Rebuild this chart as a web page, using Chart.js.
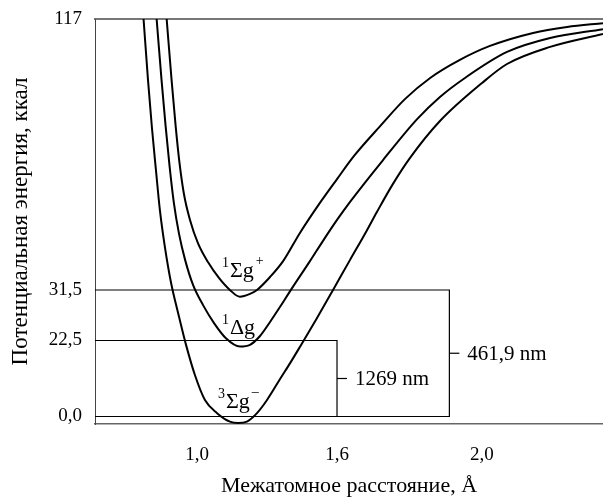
<!DOCTYPE html>
<html>
<head>
<meta charset="utf-8">
<script src="https://cdn.jsdelivr.net/npm/chart.js@4.4.1/dist/chart.umd.min.js"></script>
<style>
  body { margin: 0; background: #fff; }
  #wrap { width: 603px; height: 497px; }
</style>
</head>
<body>
<div id="wrap"><canvas id="chart" width="603" height="497"></canvas></div>
<script>
// axes (schematic, ticks are not evenly spaced in the original)
var xTicks = [1.0, 1.6, 2.0];
var xTickLabels = ['1,0', '1,6', '2,0'];
var yTicks = [0, 22.5, 31.5, 117];
var yTickLabels = ['0,0', '22,5', '31,5', '117'];
var xMin = 0.563, xMax = 2.334;
var yMin = -2.22, yMax = 117;

// 3Σg- (ground state)
var groundX = [0.771, 0.790, 0.807, 0.824, 0.841, 0.863, 0.889, 0.919, 0.953, 0.991, 1.034, 1.086, 1.141, 1.176, 1.214, 1.257, 1.300, 1.356, 1.399, 1.441, 1.510, 1.583, 1.636, 1.680, 1.710, 1.754, 1.801, 1.884, 2.000, 2.069, 2.188, 2.334];
var groundY = [117, 97.8, 82.6, 69.4, 56.7, 44.8, 33.7, 27.4, 21.2, 12.3, 4.9, 1.0, -1.5, -1.9, -1.5, 1.0, 4.9, 11.1, 15.8, 20.6, 26.2, 31.5, 41.0, 49.8, 56.1, 64.9, 73.1, 84.8, 96.8, 102.8, 108.2, 112.3];
// 1Δg
var deltaX = [0.827, 0.848, 0.865, 0.882, 0.901, 0.923, 0.949, 0.983, 1.026, 1.073, 1.124, 1.184, 1.227, 1.270, 1.313, 1.356, 1.399, 1.484, 1.540, 1.600, 1.636, 1.727, 1.821, 1.884, 1.953, 2.069, 2.188, 2.334];
var deltaY = [117, 97.8, 83.6, 70.9, 58.9, 49.2, 41.0, 33.1, 28.8, 25.6, 22.9, 20.7, 21.2, 23.3, 25.8, 28.5, 31.3, 40.6, 47.0, 53.6, 59.3, 72.5, 85.4, 92.4, 98.4, 106.6, 111.0, 113.8];
// 1Σg+
var sigmaX = [0.870, 0.891, 0.908, 0.925, 0.944, 0.970, 1.004, 1.047, 1.094, 1.141, 1.184, 1.227, 1.257, 1.313, 1.369, 1.441, 1.523, 1.600, 1.647, 1.719, 1.788, 1.857, 1.939, 2.022, 2.141, 2.235, 2.334];
var sigmaY = [117, 97.8, 83.6, 71.6, 61.8, 53.6, 46.3, 40.3, 35.3, 31.5, 30.3, 30.8, 31.5, 35.6, 40.6, 49.5, 58.6, 66.5, 73.8, 83.2, 91.8, 98.4, 104.1, 108.5, 112.6, 114.5, 115.7];

// energy levels and transitions
var bracketX = [1.6, 1.91];
var bracketTop = [22.5, 31.5];
var bracketLabels = ['1269 nm', '461,9 nm'];
var stateSup = ['1', '1', '3'];
var stateMain = ['Σg', 'Δg', 'Σg'];
var stateTail = ['+', '', '–'];

var SERIF = '"Liberation Serif", "Times New Roman", serif';

function toDecimal(knots, v) {
  for (var i = 1; i < knots.length; i++) {
    if (v <= knots[i][0] || i === knots.length - 1) {
      var a = knots[i - 1], b = knots[i];
      return a[1] + (v - a[0]) / (b[0] - a[0]) * (b[1] - a[1]);
    }
  }
}
function fromDecimal(knots, d) {
  for (var i = 1; i < knots.length; i++) {
    if (d <= knots[i][1] || i === knots.length - 1) {
      var a = knots[i - 1], b = knots[i];
      return a[0] + (d - a[1]) / (b[1] - a[1]) * (b[0] - a[0]);
    }
  }
}

// linear scale that is linear only between its knots
class PiecewiseScale extends Chart.LinearScale {
  getPixelForValue(value) {
    if (value === null) return NaN;
    return this.getPixelForDecimal(toDecimal(this.options.knots, value));
  }
  getValueForPixel(pixel) {
    return fromDecimal(this.options.knots, this.getDecimalForPixel(pixel));
  }
}
PiecewiseScale.id = 'piecewise';
PiecewiseScale.defaults = {};
Chart.register(PiecewiseScale);

function zip(xs, ys) {
  return xs.map(function(x, i) { return {x: x, y: ys[i]}; });
}

function curve(xs, ys) {
  return {
    data: zip(xs, ys),
    borderColor: '#000',
    borderWidth: 2,
    pointRadius: 0,
    fill: false,
    cubicInterpolationMode: 'monotone'
  };
}

function straight(points, color) {
  return {
    data: points,
    borderColor: color,
    borderWidth: 1.2,
    pointRadius: 0,
    fill: false,
    tension: 0
  };
}

var datasets = [
  curve(groundX, groundY),
  curve(deltaX, deltaY),
  curve(sigmaX, sigmaY),
  // 31,5 level, its bracket down to 0,0 and the 0,0 level
  straight([
    {x: xMin, y: bracketTop[1]}, {x: bracketX[1], y: bracketTop[1]},
    {x: bracketX[1], y: 0}, {x: xMin, y: 0}
  ], '#000'),
  // 22,5 level and its bracket
  straight([
    {x: xMin, y: bracketTop[0]}, {x: bracketX[0], y: bracketTop[0]},
    {x: bracketX[0], y: 0}
  ], '#000')
];

var labelPlugin = {
  id: 'labels',
  afterDatasetsDraw: function(chart) {
    var ctx = chart.ctx;
    var xs = chart.scales.x, ys = chart.scales.y;
    ctx.save();
    ctx.fillStyle = '#000';
    ctx.strokeStyle = '#000';
    ctx.lineWidth = 1.2;

    // bracket ticks and wavelengths
    bracketX.forEach(function(bx, i) {
      var px = xs.getPixelForValue(bx);
      var py = (ys.getPixelForValue(0) + ys.getPixelForValue(bracketTop[i])) / 2;
      ctx.beginPath();
      ctx.moveTo(px, py);
      ctx.lineTo(px + 10, py);
      ctx.stroke();
      ctx.font = '21px ' + SERIF;
      ctx.textAlign = 'left';
      ctx.textBaseline = 'middle';
      ctx.fillText(bracketLabels[i], px + 18, py + 1);
    });

    // term symbols
    var anchors = [[1.141, 35.6], [1.141, 23.66], [1.124, 2.52]];
    anchors.forEach(function(a, i) {
      var px = xs.getPixelForValue(a[0]);
      var py = ys.getPixelForValue(a[1]);
      ctx.textBaseline = 'alphabetic';
      ctx.font = '22px ' + SERIF;
      ctx.textAlign = 'left';
      ctx.fillText(stateMain[i], px, py);
      var w = ctx.measureText(stateMain[i]).width;
      ctx.font = '14px ' + SERIF;
      ctx.textAlign = 'right';
      ctx.fillText(stateSup[i], px - 1, py - 10);
      ctx.textAlign = 'left';
      if (stateTail[i]) ctx.fillText(stateTail[i], px + w + 2, py - 12);
    });
    ctx.restore();
  }
};

var ctx = document.getElementById('chart').getContext('2d');
new Chart(ctx, {
  type: 'line',
  data: { datasets: datasets },
  options: {
    responsive: false,
    animation: false,
    layout: { padding: { top: 19, right: 0, left: 0, bottom: 0 } },
    plugins: { legend: { display: false }, tooltip: { enabled: false } },
    scales: {
      x: {
        type: 'piecewise',
        position: 'bottom',
        min: xMin,
        max: xMax,
        bounds: 'data',
        knots: [[xMin, 0], [1.0, 0.2008], [1.6, 0.4764], [2.0, 0.7618], [xMax, 1]],
        grid: { display: false, drawTicks: false },
        border: { display: true, color: '#666', width: 1.5 },
        afterBuildTicks: function(s) { s.ticks = xTicks.map(function(v) { return {value: v}; }); },
        afterFit: function(s) { s.height = 73; s.paddingLeft = 0; s.paddingRight = 0; },
        ticks: {
          autoSkip: false,
          maxRotation: 0,
          padding: 20,
          color: '#000',
          font: { family: SERIF, size: 19 },
          callback: function(v, i) { return xTickLabels[i]; }
        },
        title: {
          display: true,
          text: 'Межатомное расстояние, Å',
          color: '#000',
          font: { family: SERIF, size: 22, lineHeight: 1 },
          padding: { top: 0, bottom: 0 }
        }
      },
      x2: {
        type: 'linear',
        position: 'top',
        grid: { display: false, drawTicks: false },
        border: { display: true, color: '#777', width: 2 },
        ticks: { display: false },
        afterFit: function(s) { s.height = 0; }
      },
      y: {
        type: 'piecewise',
        position: 'left',
        min: yMin,
        max: yMax,
        bounds: 'data',
        knots: [[yMin, 0], [0, 0.0185], [22.5, 0.2062], [31.5, 0.3309], [yMax, 1]],
        grid: { display: false, drawTicks: false },
        border: { display: true, color: '#444', width: 1 },
        afterBuildTicks: function(s) { s.ticks = yTicks.map(function(v) { return {value: v}; }); },
        afterFit: function(s) { s.width = 95; s.paddingTop = 0; s.paddingBottom = 0; },
        ticks: {
          autoSkip: false,
          padding: 13,
          color: '#000',
          font: { family: SERIF, size: 19 },
          callback: function(v, i) { return yTickLabels[i]; }
        },
        title: {
          display: true,
          text: 'Потенциальная энергия, ккал',
          color: '#000',
          font: { family: SERIF, size: 23, lineHeight: 1 },
          padding: { top: 9, bottom: 0 }
        }
      }
    }
  },
  plugins: [labelPlugin]
});
</script>
</body>
</html>
